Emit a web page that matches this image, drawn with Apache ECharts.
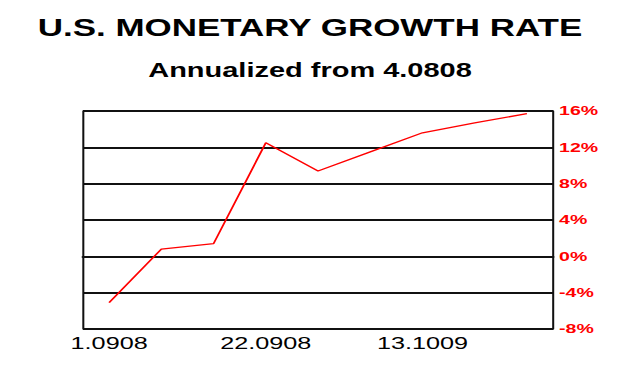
<!DOCTYPE html>
<html>
<head>
<meta charset="utf-8">
<script src="https://cdn.jsdelivr.net/npm/echarts@6/dist/echarts.min.js"></script>
<style>
html,body{margin:0;padding:0;background:#fff;}
#wrap{width:620px;height:380px;overflow:hidden;position:relative;background:#fff;}
#c{width:413px;height:380px;transform:scaleX(1.50121);transform-origin:0 0;}
</style>
</head>
<body>
<div id="wrap"><div id="c"></div></div>
<script>
const titleText = 'U.S. MONETARY GROWTH RATE';
const subtitleText = 'Annualized from 4.0808';
const categories = ['1.0908','8.0908','15.0908','22.0908','29.0908','6.1008','13.1009','20.1008','27.1008'];
const growthRate = [-5.1, 0.8, 1.4, 12.5, 9.4, 11.5, 13.6, 14.7, 15.7];
const yTicks = [-8, -4, 0, 4, 8, 12, 16];

const chart = echarts.init(document.getElementById('c'), null, {renderer: 'svg', width: 413, height: 380});
chart.setOption({
  animation: false,
  backgroundColor: '#fff',
  title: [
    {text: titleText, left: 'center', top: 11,
     textStyle: {fontFamily: 'Liberation Sans, Arial, sans-serif', fontWeight: 'bold', fontSize: 23.3, color: '#000'}},
    {text: subtitleText, left: 'center', top: 56,
     textStyle: {fontFamily: 'Liberation Sans, Arial, sans-serif', fontWeight: 'bold', fontSize: 19.3, color: '#000'}}
  ],
  grid: {left: 55.3, right: 44.6, top: 111, bottom: 51, containLabel: false},
  xAxis: {
    type: 'category',
    data: categories,
    boundaryGap: true,
    axisLine: {show: true, lineStyle: {color: '#111', width: 2}},
    axisTick: {show: false},
    axisLabel: {interval: 2, margin: 6, color: '#000', fontSize: 16.8,
      fontFamily: 'Liberation Sans, Arial, sans-serif'},
    splitLine: {show: false}
  },
  yAxis: [
    {
      type: 'value', position: 'right', min: yTicks[0], max: yTicks[yTicks.length-1], interval: 4,
      axisLine: {show: true, lineStyle: {color: '#111', width: 1.35}},
      axisTick: {show: false},
      axisLabel: {formatter: '{value}%', color: '#ff0000', fontWeight: 'bold', fontSize: 13, margin: 4,
        fontFamily: 'Liberation Sans, Arial, sans-serif'},
      splitLine: {show: true, lineStyle: {color: '#111', width: 2}}
    },
    {
      type: 'value', position: 'left', min: yTicks[0], max: yTicks[yTicks.length-1], interval: 4,
      axisLine: {show: true, onZero: false, lineStyle: {color: '#111', width: 1.35}},
      axisTick: {show: false}, axisLabel: {show: false}, splitLine: {show: false}
    }
  ],
  series: [{
    type: 'line',
    data: growthRate,
    yAxisIndex: 0,
    symbol: 'none',
    lineStyle: {color: '#ff0000', width: 1.3},
    itemStyle: {color: '#ff0000'}
  }]
});
</script>
</body>
</html>
